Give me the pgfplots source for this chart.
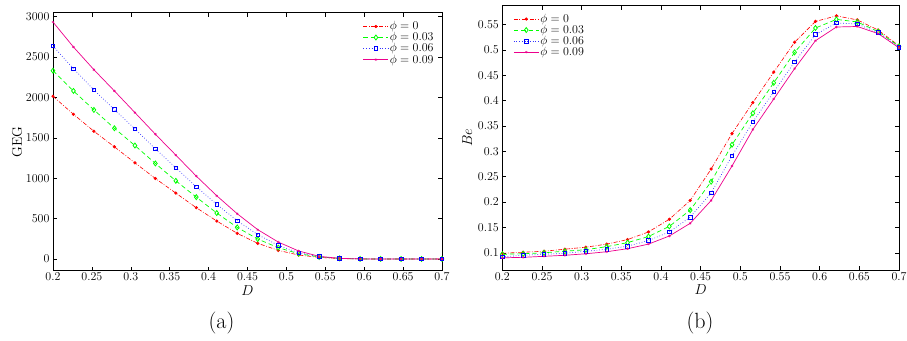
\documentclass[border=0pt]{standalone}
\usepackage{pgfplots}
\pgfplotsset{compat=1.18}
\usepackage{pgfplotstable}

% GEG against D for four values of phi
\pgfplotstableread{
D      p0    p3    p6    p9
0.2000 2015  2332  2637  2934
0.2263 1792  2081  2357  2625
0.2526 1582  1846  2093  2344
0.2789 1389  1619  1850  2081
0.3053 1191  1405  1611  1813
0.3316  997  1183  1364  1545
0.3579  816   968  1129  1286
0.3842  635   766   894  1026
0.4105  470   569   676   783
0.4368  317   391   474   560
0.4632  194   247   301   363
0.4895  107   140   169   210
0.5158   49    66    78    99
0.5421   20    25    29    33
0.5684    5     8     8     8
0.5947    1     1     1     1
0.6211    0     0     0     0
0.6474    0     0     0     0
0.6737    0     0     0     0
0.7000    0     0     0     0
}\geg

% Be against D for four values of phi
\pgfplotstableread{
D      p0    p3    p6    p9
0.2000 0.099 0.097 0.092 0.090
0.2263 0.101 0.098 0.095 0.091
0.2526 0.103 0.100 0.097 0.093
0.2789 0.107 0.103 0.099 0.095
0.3053 0.111 0.106 0.103 0.098
0.3316 0.117 0.112 0.107 0.102
0.3579 0.126 0.120 0.113 0.108
0.3842 0.141 0.132 0.124 0.117
0.4105 0.166 0.152 0.141 0.133
0.4368 0.203 0.184 0.170 0.158
0.4632 0.265 0.240 0.218 0.203
0.4895 0.335 0.313 0.291 0.271
0.5158 0.396 0.375 0.358 0.343
0.5421 0.456 0.435 0.417 0.403
0.5684 0.515 0.495 0.476 0.463
0.5947 0.556 0.543 0.530 0.518
0.6211 0.567 0.560 0.553 0.545
0.6474 0.559 0.555 0.551 0.546
0.6737 0.539 0.536 0.534 0.532
0.7000 0.508 0.507 0.505 0.504
}\be

\pgfplotsset{
  panel/.style={
    scale only axis,
    anchor=south west,
    xmin=0.2, xmax=0.7,
    xtick={0.2,0.25,...,0.7},
    tick align=inside,
    major tick length=4pt,
    tick style={black, line width=0.5pt},
    axis line style={line width=0.7pt},
    ticklabel style={font=\fontsize{12.5}{14}\selectfont},
    label style={font=\fontsize{14}{16}\selectfont},
    xticklabel style={yshift=1pt},
    xlabel={$D$},
    xlabel style={yshift=2pt},
    legend cell align=left,
    legend style={draw=none, fill=none, font=\fontsize{13}{14}\selectfont,
      row sep=-1.2pt, inner sep=0pt,
      nodes={inner sep=1.2pt}},
    legend image code/.code={
      \draw[mark repeat=2, mark phase=2, #1]
        plot coordinates {(0pt,0pt) (12.5pt,0pt) (25pt,0pt)};},
  },
  s0/.style={red, dash pattern=on 4pt off 1.6pt on 0.8pt off 1.6pt,
    line width=0.6pt, mark=*, mark size=1.3pt, mark options={solid}},
  s3/.style={green, dash pattern=on 4.5pt off 3pt, line width=0.7pt,
    mark=diamond, mark size=2.5pt, mark options={solid, line width=0.8pt}},
  s6/.style={blue!80, dash pattern=on 0.7pt off 2pt, line width=0.7pt,
    mark=square, mark size=1.8pt, mark options={solid, blue, line width=0.7pt}},
  s9/.style={magenta, solid, line width=0.7pt, mark=asterisk,
    mark size=1.3pt, mark options={solid, line width=0.4pt}},
}

\begin{document}
\begin{tikzpicture}
\begin{axis}[panel,
  at={(53pt,69.3pt)}, width=389pt, height=258pt,
  ymin=-145, ymax=3050,
  ytick={0,500,...,3000},
  scaled y ticks=false,
  yticklabel style={/pgf/number format/1000 sep={}},
  ylabel={GEG},
  ylabel style={yshift=-3pt},
  legend style={at={(0.982,0.971)}, anchor=north east},
]
\addplot[s0] table[x=D, y=p0] {\geg};
\addplot[s3] table[x=D, y=p3] {\geg};
\addplot[s6] table[x=D, y=p6] {\geg};
\addplot[s9] table[x=D, y=p9] {\geg};
\legend{$\phi=0$, $\phi=0.03$, $\phi=0.06$, $\phi=0.09$}
\end{axis}

\begin{axis}[panel,
  at={(502.3pt,70pt)}, width=396.7pt, height=264.3pt,
  ymin=0.066, ymax=0.587,
  ytick={0.1,0.15,...,0.56},
  ylabel={$Be$},
  ylabel style={yshift=-1pt},
  legend style={at={(0.0275,0.9735)}, anchor=north west},
]
\addplot[s0] table[x=D, y=p0] {\be};
\addplot[s3] table[x=D, y=p3] {\be};
\addplot[s6] table[x=D, y=p6] {\be};
\addplot[s9] table[x=D, y=p9] {\be};
\legend{$\phi=0$, $\phi=0.03$, $\phi=0.06$, $\phi=0.09$}
\end{axis}

\node[font=\fontsize{22}{26}\selectfont] at (221.5pt,17pt) {(a)};
\node[font=\fontsize{22}{26}\selectfont] at (700pt,17pt) {(b)};

\pgfresetboundingbox
\path[use as bounding box] (0,0) rectangle (907pt,340pt);
\end{tikzpicture}
\end{document}
